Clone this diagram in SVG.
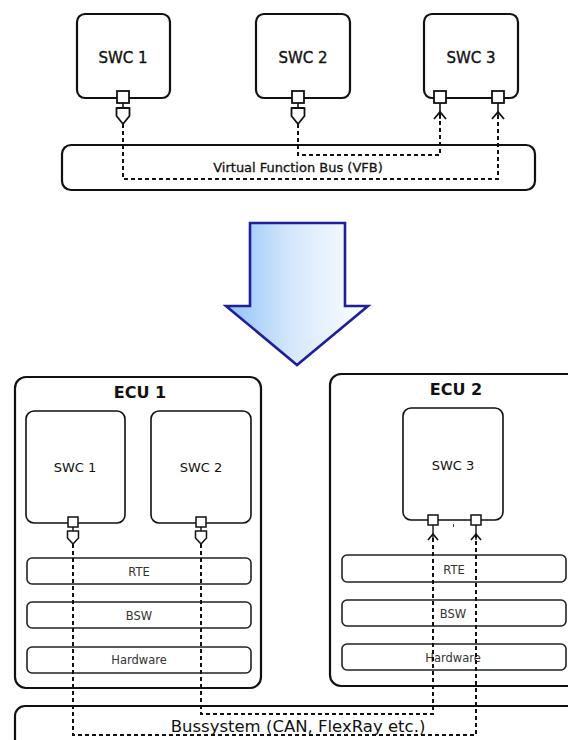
<svg xmlns="http://www.w3.org/2000/svg" width="568" height="740" viewBox="0 0 568 740">
  <defs>
    <linearGradient id="arrowFill" x1="0" y1="0" x2="1" y2="0">
      <stop offset="0" stop-color="#8fc2f7"/>
      <stop offset="0.45" stop-color="#d4e7fb"/>
      <stop offset="1" stop-color="#ffffff"/>
    </linearGradient>
    <!-- provided port: box on the component edge, stub and pentagon -->
    <g id="portOutBig">
      <rect x="-6" y="-6" width="12" height="12" fill="#fff" stroke="#111" stroke-width="1.8"/>
      <line x1="0" y1="6" x2="0" y2="11" stroke="#111" stroke-width="1.6"/>
      <path d="M -6.5 11 H 6.5 V 19 L 0 27 L -6.5 19 Z" fill="#fff" stroke="#111" stroke-width="1.8" stroke-linejoin="round"/>
    </g>
    <!-- required port: box on the component edge with incoming arrow -->
    <g id="portInBig">
      <rect x="-6" y="-6" width="12" height="12" fill="#fff" stroke="#111" stroke-width="1.8"/>
      <line x1="0" y1="6" x2="0" y2="22" stroke="#111" stroke-width="1.6"/>
      <path d="M -6 22 L 0 15 L 6 22" fill="none" stroke="#111" stroke-width="1.8"/>
    </g>
    <g id="portOutSmall">
      <rect x="-5" y="-5" width="10" height="10" fill="#fff" stroke="#111" stroke-width="1.5"/>
      <line x1="0" y1="5" x2="0" y2="9" stroke="#111" stroke-width="1.4"/>
      <path d="M -5.5 9 H 5.5 V 16 L 0 22 L -5.5 16 Z" fill="#fff" stroke="#111" stroke-width="1.5" stroke-linejoin="round"/>
    </g>
    <g id="portInSmall">
      <rect x="-5" y="-5" width="10" height="10" fill="#fff" stroke="#111" stroke-width="1.5"/>
      <line x1="0" y1="5" x2="0" y2="20" stroke="#111" stroke-width="1.4"/>
      <path d="M -5 20 L 0 14 L 5 20" fill="none" stroke="#111" stroke-width="1.6"/>
    </g>
  </defs>
  <style>
    text { font-family: "DejaVu Sans", "Liberation Sans", sans-serif; text-anchor: middle; fill: #111; }
    .swcTop { fill: #fff; stroke: #111; stroke-width: 2.2; }
    .swcIn { fill: #fff; stroke: #111; stroke-width: 1.6; }
    .ecu { fill: #fff; stroke: #111; stroke-width: 2.2; }
    .layer { fill: #fff; stroke: #222; stroke-width: 1.6; }
    .bus { fill: #fff; stroke: #111; stroke-width: 2.2; }
    .wire { fill: none; stroke: #111; stroke-width: 2; stroke-dasharray: 4 3; }
    .t15 { font-size: 15px; stroke: #111; stroke-width: 0.35; }
    .t13 { font-size: 13px; }
    .vfbT { font-size: 13px; stroke: #111; stroke-width: 0.3; }
    .tl { font-size: 11.5px; fill: #333; }
    .head { font-size: 16px; font-weight: bold; }
  </style>

  <rect width="568" height="740" fill="#fff"/>

  <!-- Virtual Function Bus view -->
  <g id="vfb">
    <rect class="bus" x="62" y="145" width="473" height="45" rx="9"/>
    <text class="vfbT" x="298" y="172">Virtual Function Bus (VFB)</text>
  </g>
  <g id="swc1-top">
    <rect class="swcTop" x="77" y="14" width="93" height="84" rx="8"/>
    <text class="t15" x="123" y="63">SWC 1</text>
  </g>
  <g id="swc2-top">
    <rect class="swcTop" x="256" y="14" width="94" height="84" rx="8"/>
    <text class="t15" x="303" y="63">SWC 2</text>
  </g>
  <g id="swc3-top">
    <rect class="swcTop" x="424" y="14" width="94" height="84" rx="8"/>
    <text class="t15" x="471" y="63">SWC 3</text>
  </g>

  <!-- transformation arrow -->
  <g id="mapping-arrow">
    <path d="M 250 223 H 345 V 306 H 368 L 297 365 L 226 306 H 250 Z" fill="url(#arrowFill)" stroke="#1f1f9c" stroke-width="2.6" stroke-linejoin="miter"/>
  </g>

  <!-- ECU view -->
  <g id="ecu1">
    <rect class="ecu" x="15" y="377" width="246" height="311" rx="11"/>
    <text class="head" x="140" y="398">ECU 1</text>
    <rect class="layer" x="27" y="558" width="224" height="26" rx="5"/>
    <text class="tl" x="139" y="576">RTE</text>
    <rect class="layer" x="27" y="602" width="224" height="26" rx="5"/>
    <text class="tl" x="139" y="620">BSW</text>
    <rect class="layer" x="27" y="647" width="224" height="26" rx="5"/>
    <text class="tl" x="139" y="664">Hardware</text>
  </g>
  <g id="ecu1-swc1">
    <rect class="swcIn" x="26" y="411" width="99" height="112" rx="8"/>
    <text class="t13" x="75" y="472">SWC 1</text>
  </g>
  <g id="ecu1-swc2">
    <rect class="swcIn" x="151" y="411" width="100" height="112" rx="8"/>
    <text class="t13" x="201" y="472">SWC 2</text>
  </g>

  <g id="ecu2">
    <rect class="ecu" x="330" y="374" width="250" height="312" rx="11"/>
    <text class="head" x="456" y="395">ECU 2</text>
    <rect class="layer" x="342" y="555" width="224" height="27" rx="5"/>
    <text class="tl" x="454" y="574">RTE</text>
    <rect class="layer" x="342" y="600" width="224" height="26" rx="5"/>
    <text class="tl" x="453" y="618">BSW</text>
    <rect class="layer" x="342" y="644" width="224" height="26" rx="5"/>
    <text class="tl" x="453" y="662">Hardware</text>
  </g>
  <g id="ecu2-swc3">
    <rect class="swcIn" x="403" y="408" width="100" height="112" rx="8"/>
    <text class="t13" x="453" y="470">SWC 3</text>
    <line x1="453.5" y1="524" x2="453.5" y2="527" stroke="#333" stroke-width="1"/>
  </g>

  <g id="bussystem">
    <rect class="bus" x="15" y="706" width="570" height="60" rx="10"/>
    <text x="298" y="732" style="font-size:16.5px">Bussystem (CAN, FlexRay etc.)</text>
  </g>

  <!-- signal routes -->
  <g id="connectors">
    <polyline class="wire" points="123,124 123,179 498,179 498,112"/>
    <polyline class="wire" points="298,124 298,155 440,155 440,112"/>
    <polyline class="wire" points="73,544 73,735 476,735 476,534"/>
    <polyline class="wire" points="201,544 201,714 433,714 433,534"/>
  </g>

  <!-- ports -->
  <g id="ports">
    <use href="#portOutBig" x="123" y="97"/>
    <use href="#portOutBig" x="298" y="97"/>
    <use href="#portInBig" x="440" y="97"/>
    <use href="#portInBig" x="498" y="97"/>
    <use href="#portOutSmall" x="73" y="522"/>
    <use href="#portOutSmall" x="201" y="522"/>
    <use href="#portInSmall" x="433" y="520"/>
    <use href="#portInSmall" x="476" y="520"/>
  </g>
</svg>
